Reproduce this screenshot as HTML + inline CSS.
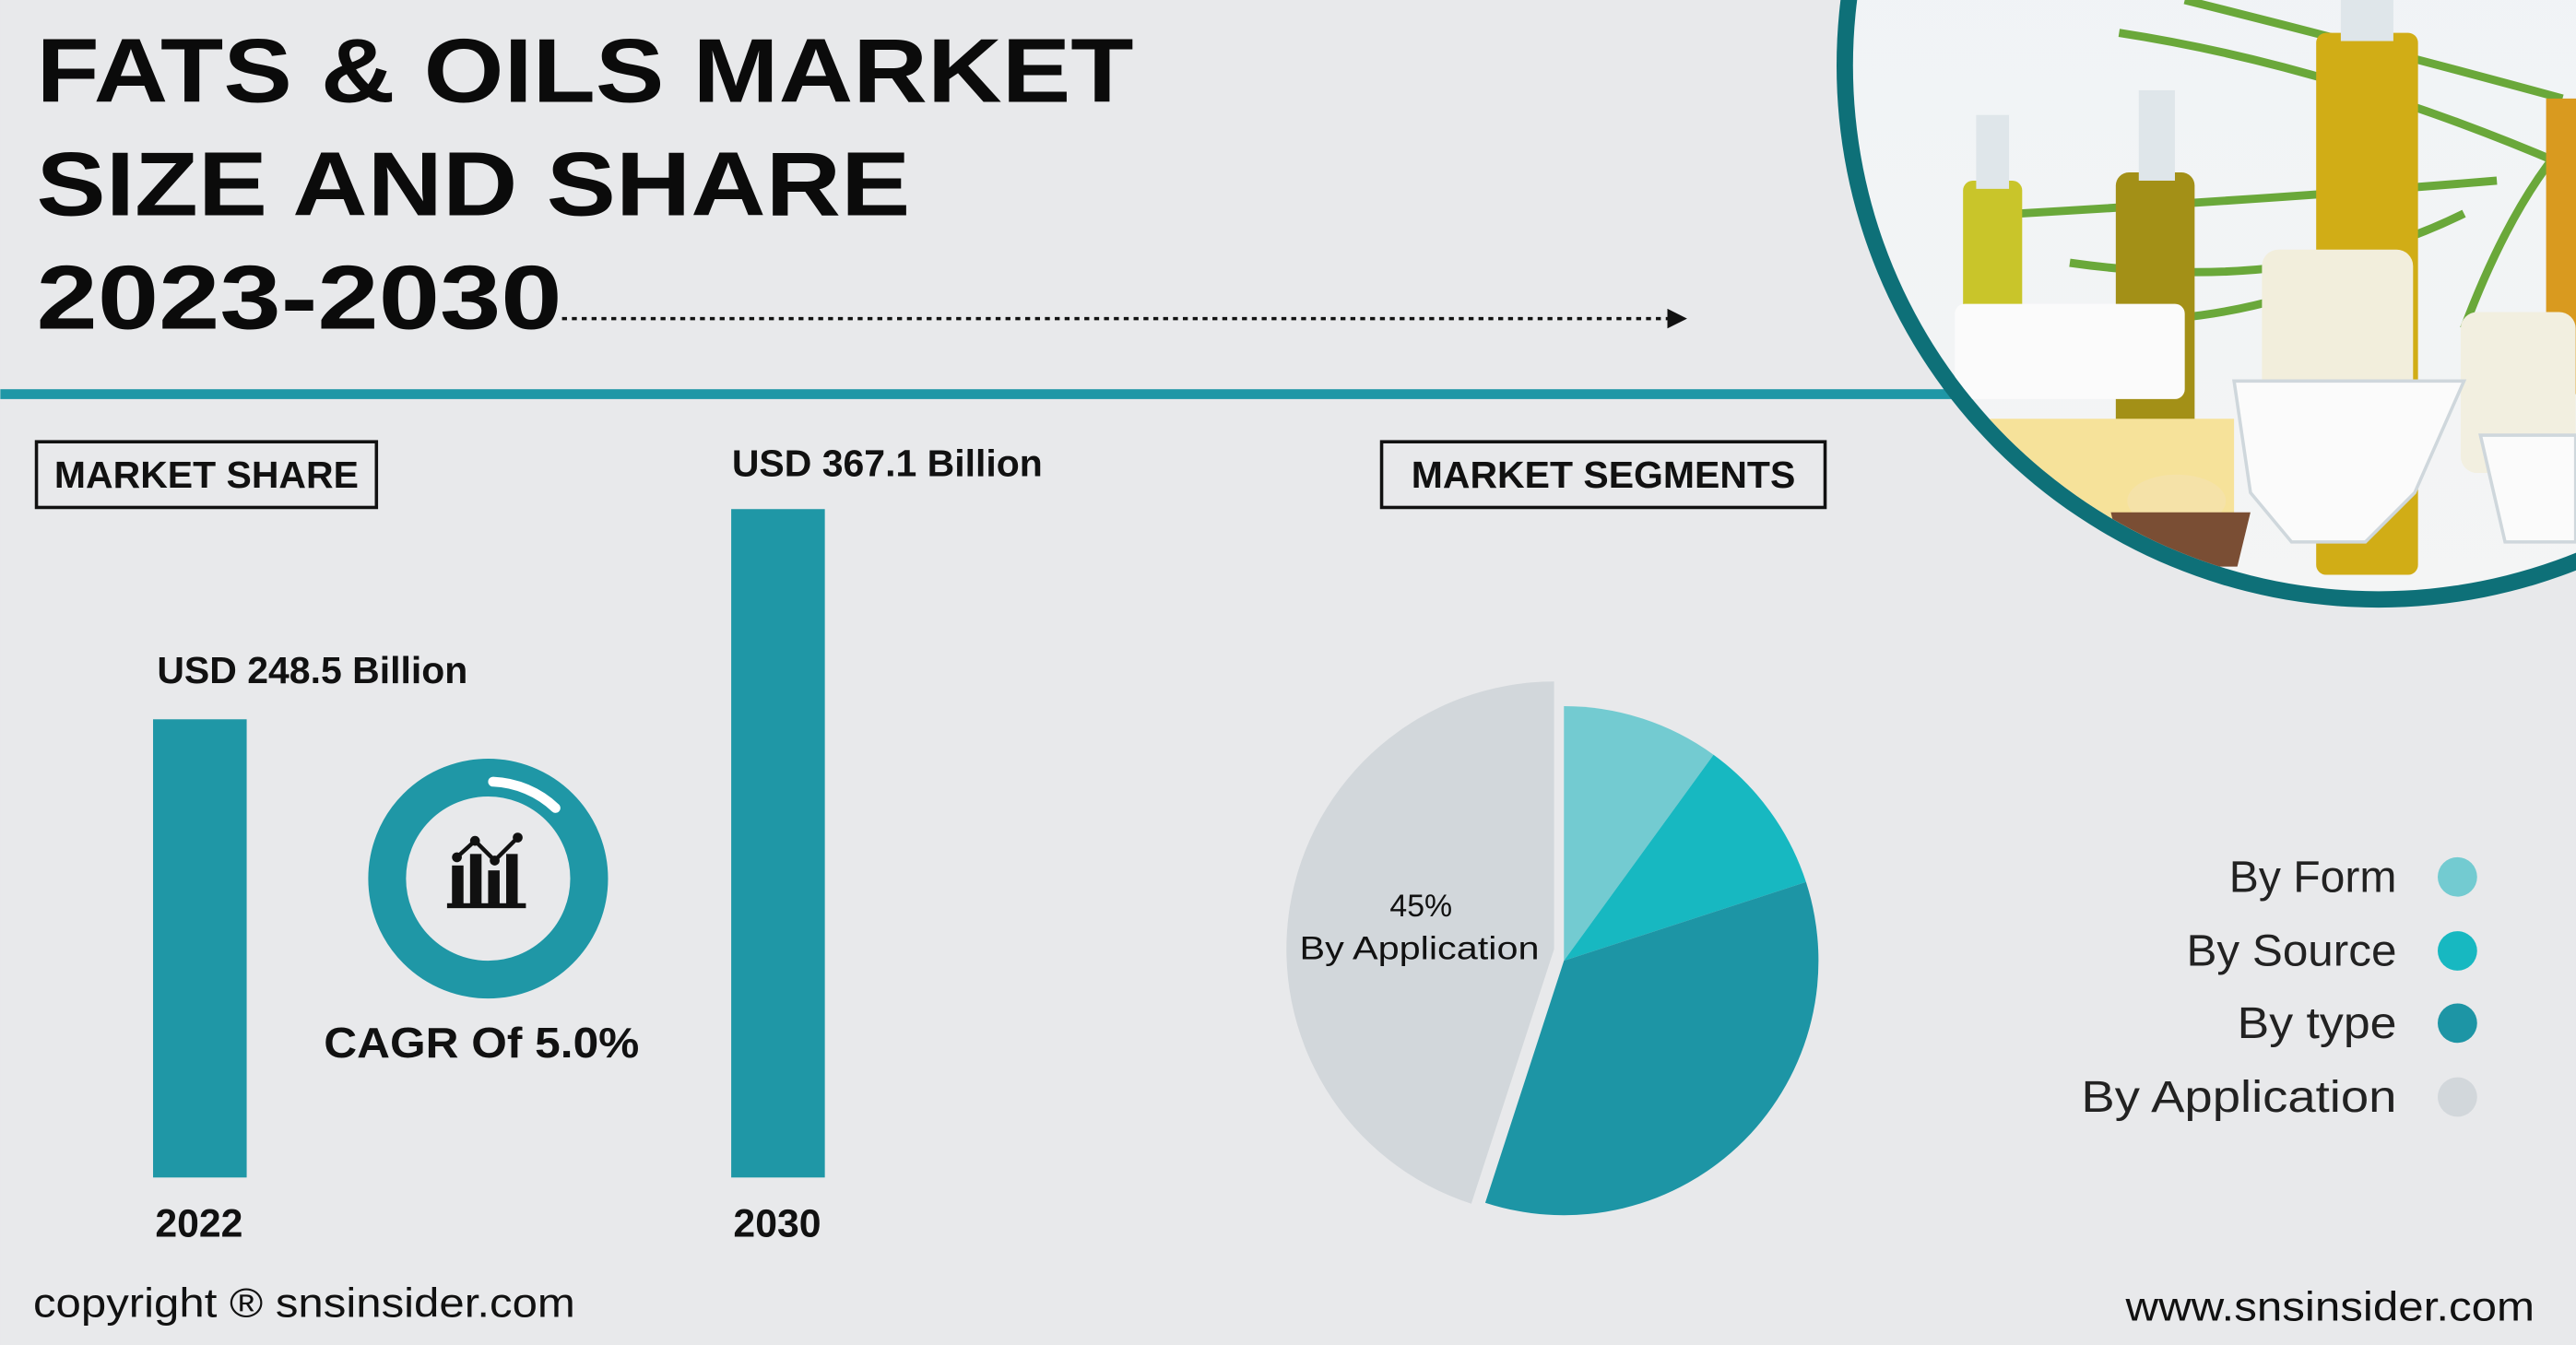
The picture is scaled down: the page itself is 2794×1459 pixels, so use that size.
<!DOCTYPE html>
<html><head><meta charset="utf-8"><style>
html,body{margin:0;padding:0;background:#e8e9eb;}
svg{display:block}
text{font-family:"Liberation Sans",sans-serif;}
</style></head><body>
<svg width="2794" height="1459" viewBox="0 0 1568 819" xmlns="http://www.w3.org/2000/svg">
<defs>
<clipPath id="cc"><circle cx="1448" cy="40" r="320"/></clipPath>
<linearGradient id="bg" x1="0" y1="0" x2="0" y2="1"><stop offset="0" stop-color="#eef2f6"/><stop offset="1" stop-color="#f4f5f5"/></linearGradient>
</defs>
<rect width="1568" height="819" fill="#e8e9eb"/>
<rect x="0" y="237" width="1200" height="6" fill="#1f97a6"/>
<rect x="1540" y="237" width="28" height="6" fill="#1f97a6"/>
<circle cx="1448" cy="40" r="330" fill="#0e7078"/>
<g clip-path="url(#cc)">
<rect x="1100" y="-300" width="500" height="700" fill="url(#bg)"/>
<g stroke="#6aa83a" stroke-width="5" fill="none">
<path d="M1230 130 Q1400 120 1520 110"/><path d="M1260 160 Q1400 180 1500 130"/><path d="M1290 20 Q1420 40 1560 100"/><path d="M1330 0 Q1450 30 1560 60"/><path d="M1240 190 Q1350 210 1470 150"/><path d="M1500 200 Q1530 120 1568 80"/>
</g>
<rect x="1195" y="110" width="36" height="125" rx="6" fill="#c9c52a"/><rect x="1203" y="70" width="20" height="45" fill="#dfe6ea"/>
<rect x="1288" y="105" width="48" height="180" rx="8" fill="#a39017"/><rect x="1302" y="55" width="22" height="55" fill="#dfe6ea"/>
<rect x="1410" y="20" width="62" height="330" rx="6" fill="#d1ad16"/><rect x="1425" y="-20" width="32" height="45" fill="#dfe6ea"/>
<rect x="1550" y="60" width="20" height="180" fill="#d99a1f"/>
<rect x="1195" y="255" width="165" height="72" fill="#f6e29a"/>
<rect x="1190" y="185" width="140" height="58" rx="6" fill="#fbfbfb"/>
<rect x="1377" y="152" width="92" height="110" rx="10" fill="#f2eedc"/>
<rect x="1498" y="190" width="70" height="98" rx="10" fill="#f2efe0"/>
<path d="M1360 232 L1500 232 L1470 300 L1440 330 L1395 330 L1370 300 Z" fill="#fbfbfb" stroke="#cfd7dc" stroke-width="2"/>
<path d="M1510 265 L1568 265 L1568 330 L1525 330 Z" fill="#fbfbfb" stroke="#cfd7dc" stroke-width="2"/>
<ellipse cx="1325" cy="305" rx="30" ry="16" fill="#f5e2a8"/>
<path d="M1285 312 L1370 312 L1362 345 L1293 345 Z" fill="#7a4e34"/>
</g>
<g font-weight="bold" font-size="55" fill="#0b0b0b">
<text x="22" y="62" textLength="668" lengthAdjust="spacingAndGlyphs">FATS &amp; OILS MARKET</text>
<text x="22" y="131" textLength="532" lengthAdjust="spacingAndGlyphs">SIZE AND SHARE</text>
<text x="22" y="200" textLength="320" lengthAdjust="spacingAndGlyphs">2023-2030</text>
</g>
<line x1="342" y1="194" x2="1016" y2="194" stroke="#111" stroke-width="2" stroke-dasharray="3,3"/>
<path d="M1015 188 L1027 194 L1015 200 Z" fill="#111"/>
<rect x="22" y="269" width="207" height="40" fill="none" stroke="#111" stroke-width="2"/>
<text x="125.5" y="297" text-anchor="middle" font-size="23" font-weight="bold" fill="#111">MARKET SHARE</text>
<rect x="841" y="269" width="270" height="40" fill="none" stroke="#111" stroke-width="2"/>
<text x="976" y="297" text-anchor="middle" font-size="23" font-weight="bold" fill="#111">MARKET SEGMENTS</text>
<rect x="93" y="438" width="57" height="279" fill="#1f97a6"/>
<rect x="445" y="310" width="57" height="407" fill="#1f97a6"/>
<text x="190" y="416" text-anchor="middle" font-size="23" font-weight="bold" fill="#111">USD 248.5 Billion</text>
<text x="540" y="290" text-anchor="middle" font-size="23" font-weight="bold" fill="#111">USD 367.1 Billion</text>
<text x="121" y="753" text-anchor="middle" font-size="24" font-weight="bold" fill="#111">2022</text>
<text x="473" y="753" text-anchor="middle" font-size="24" font-weight="bold" fill="#111">2030</text>
<circle cx="297" cy="535" r="61.5" fill="none" stroke="#1f97a6" stroke-width="23"/>
<path d="M300 476 A59 59 0 0 1 338 492" fill="none" stroke="#fff" stroke-width="6" stroke-linecap="round"/>
<g fill="#111">
<rect x="275" y="527" width="7" height="24"/><rect x="286" y="520" width="7" height="31"/><rect x="297" y="530" width="7" height="21"/><rect x="308" y="520" width="7" height="31"/>
<rect x="272" y="550" width="48" height="3"/>
</g>
<path d="M278 522 L289 512 L301 524 L315 510" fill="none" stroke="#111" stroke-width="2.5"/>
<circle cx="278" cy="522" r="3" fill="#111"/><circle cx="289" cy="512" r="3" fill="#111"/><circle cx="301" cy="524" r="3" fill="#111"/><circle cx="315" cy="510" r="3" fill="#111"/>
<text x="293" y="644" text-anchor="middle" font-size="26" font-weight="bold" fill="#111" textLength="192" lengthAdjust="spacingAndGlyphs">CAGR Of 5.0%</text>
<path d="M952 585 L952 430 A155 155 0 0 1 1043.1 459.6 Z" fill="#73cbd1"/>
<path d="M952 585 L1043.1 459.6 A155 155 0 0 1 1099.4 537.1 Z" fill="#17b8c1"/>
<path d="M952 585 L1099.4 537.1 A155 155 0 0 1 904.1 732.4 Z" fill="#1d95a5"/>
<path d="M946 578 L946 415 A163 163 0 0 0 895.6 733 Z" fill="#d2d7db"/>
<text x="865" y="558" text-anchor="middle" font-size="19" fill="#111">45%</text>
<text x="864" y="584" text-anchor="middle" font-size="20" fill="#111" textLength="146" lengthAdjust="spacingAndGlyphs">By Application</text>
<g font-size="27" fill="#222" text-anchor="end">
<text x="1459" y="543" textLength="102" lengthAdjust="spacingAndGlyphs">By Form</text>
<text x="1459" y="588" textLength="128" lengthAdjust="spacingAndGlyphs">By Source</text>
<text x="1459" y="632" textLength="97" lengthAdjust="spacingAndGlyphs">By type</text>
<text x="1459" y="677" textLength="192" lengthAdjust="spacingAndGlyphs">By Application</text>
</g>
<circle cx="1496" cy="534" r="12" fill="#73cbd1"/>
<circle cx="1496" cy="579" r="12" fill="#17b8c1"/>
<circle cx="1496" cy="623" r="12" fill="#1d95a5"/>
<circle cx="1496" cy="668" r="12" fill="#d2d7db"/>
<text x="20" y="802" font-size="25" fill="#111" textLength="330" lengthAdjust="spacingAndGlyphs">copyright ® snsinsider.com</text>
<text x="1543" y="804" text-anchor="end" font-size="25" fill="#111" textLength="249" lengthAdjust="spacingAndGlyphs">www.snsinsider.com</text>
</svg>
</body></html>
